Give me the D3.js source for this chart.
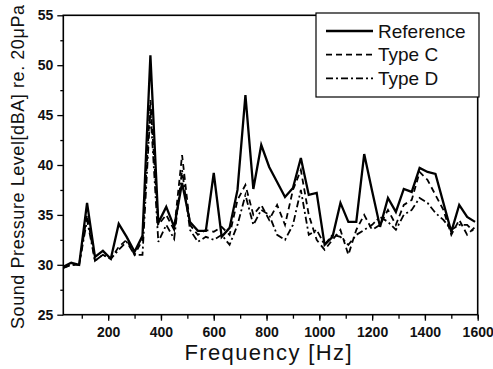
<!DOCTYPE html>
<html>
<head>
<meta charset="utf-8">
<script src="https://cdn.jsdelivr.net/npm/d3@7"></script>
<style>
  body { margin: 0; background: #fff; }
  svg text { font-family: "Liberation Sans", Arial, sans-serif; }
</style>
</head>
<body>
<div id="graph"></div>
<script>
// frequency grid [Hz]
let freqs = [30,60,90,120,150,180,210,240,270,300,330,360,390,420,450,480,510,540,570,600,
  630,660,690,720,750,780,810,840,870,900,930,960,990,1020,1050,1080,1110,1140,1170,1200,
  1230,1260,1290,1320,1350,1380,1410,1440,1470,1500,1530,1560,1590];

// sound pressure level [dBA]
let reference = [29.8,30.2,30.0,36.2,30.8,31.4,30.6,34.1,32.8,31.3,32.9,51.0,34.2,35.8,33.8,38.2,34.3,33.4,33.4,39.2,
  32.8,33.7,37.5,47.0,37.6,42.0,39.8,38.3,36.8,37.7,40.7,37.0,37.2,32.0,32.8,36.2,34.3,34.3,41.1,37.4,
  33.8,36.7,35.3,37.6,37.3,39.7,39.3,39.1,36.2,33.3,36.0,34.8,34.3];
let typeC = [29.7,30.0,30.0,35.0,30.4,31.0,30.6,31.8,32.5,31.0,32.5,46.5,34.0,35.0,33.5,41.0,34.0,33.0,33.5,33.3,
  33.8,33.0,36.5,38.0,35.0,36.0,34.5,36.0,34.0,37.5,39.5,35.0,32.5,31.5,32.5,33.5,31.0,33.5,35.0,33.5,
  34.0,35.5,34.0,36.0,36.5,39.3,38.5,37.0,35.5,33.0,34.5,33.0,33.8];
let typeD = [29.7,30.0,30.0,34.5,30.4,31.0,30.6,31.5,32.3,31.0,31.0,45.5,32.3,34.0,32.6,39.5,33.5,32.3,32.8,32.5,
  33.0,32.0,34.0,37.0,34.0,35.5,35.0,33.0,32.5,34.0,37.5,33.0,33.5,32.0,33.0,32.8,32.0,33.0,33.5,34.0,
  34.8,34.3,33.5,35.0,35.5,36.7,36.2,35.2,34.5,33.5,34.0,34.0,33.2];

let xTicks = [200,400,600,800,1000,1200,1400,1600];
let yTicks = [25,30,35,40,45,50,55];

let seriesNames = ["Reference", "Type C", "Type D"];
let seriesData = [reference, typeC, typeD];
let dashes = [null, "6,4", "7,3,2,3"];
let widths = [2.3, 1.8, 1.8];

let margin = {top: 15.3, right: 15.3, bottom: 54.3, left: 63.3},
    width = 493 - margin.left - margin.right,
    height = 369 - margin.top - margin.bottom;

let svg = d3.select('div#graph').append('svg')
  .attr('width', 493)
  .attr('height', 369);

let g = svg.append('g')
  .attr('transform', 'translate(' + margin.left + ',' + margin.top + ')');

let x = d3.scaleLinear().domain([30, 1600]).range([0, width]);
let y = d3.scaleLinear().domain([25, 55]).range([height, 0]);

// minor ticks
let xAxisMinor = d3.axisBottom(x).tickValues(d3.range(100, 1601, 100)).tickSize(4).tickFormat('');
let yAxisMinor = d3.axisLeft(y).tickValues(d3.range(27.5, 55, 5)).tickSize(3).tickFormat('');
g.append('g').attr('transform', 'translate(0,' + height + ')').call(xAxisMinor);
g.append('g').call(yAxisMinor);

let xAxis = d3.axisBottom(x).tickValues(xTicks).tickSize(6).tickPadding(6).tickFormat(d3.format('d'));
let yAxis = d3.axisLeft(y).tickValues(yTicks).tickSize(6).tickPadding(4).tickFormat(d3.format('d'));

g.append('g')
  .attr('class', 'x axis')
  .attr('transform', 'translate(0,' + height + ')')
  .call(xAxis);

g.append('g')
  .attr('class', 'y axis')
  .call(yAxis);

g.selectAll('.axis').attr('font-family', null);
g.selectAll('.axis text')
  .style('font-size', '14px')
  .style('font-weight', 'bold')
  .attr('fill', '#111');
g.selectAll('.tick line').attr('stroke', '#000').attr('stroke-width', 1.3);
g.selectAll('.domain').remove();

// plot frame
g.append('rect')
  .attr('width', width)
  .attr('height', height)
  .attr('fill', 'none')
  .attr('stroke', '#000')
  .attr('stroke-width', 1.6);

let line = d3.line()
  .x(function(d, i) { return x(freqs[i]); })
  .y(function(d) { return y(d); });

// draw D first so reference sits on top
for (let k = seriesData.length - 1; k >= 0; k--) {
  g.append('path')
    .datum(seriesData[k])
    .attr('fill', 'none')
    .attr('stroke', '#000')
    .attr('stroke-width', widths[k])
    .attr('stroke-linejoin', 'miter')
    .attr('stroke-dasharray', dashes[k])
    .attr('d', line);
}

// legend
let legend = svg.append('g');
legend.append('rect')
  .attr('x', 316).attr('y', 13)
  .attr('width', 163).attr('height', 84)
  .attr('fill', '#fff')
  .attr('stroke', '#000')
  .attr('stroke-width', 1.2);

seriesNames.forEach(function(name, i) {
  let ly = 31 + i * 23.7;
  legend.append('line')
    .attr('x1', 326).attr('x2', 373)
    .attr('y1', ly).attr('y2', ly)
    .attr('stroke', '#000')
    .attr('stroke-width', widths[i])
    .attr('stroke-dasharray', dashes[i]);
  legend.append('text')
    .attr('x', 378).attr('y', ly + 6.5)
    .style('font-size', '19px')
    .attr('fill', '#111')
    .text(name);
});

// axis titles
svg.append('text')
  .attr('x', 268).attr('y', 360)
  .attr('text-anchor', 'middle')
  .style('font-size', '22px')
  .attr('textLength', 167)
  .attr('fill', '#111')
  .text('Frequency [Hz]');

svg.append('text')
  .attr('transform', 'translate(24,167) rotate(-90)')
  .attr('text-anchor', 'middle')
  .style('font-size', '18px')
  .attr('textLength', 324)
  .attr('fill', '#111')
  .text('Sound Pressure Level[dBA] re. 20\u03bcPa');
</script>
</body>
</html>
